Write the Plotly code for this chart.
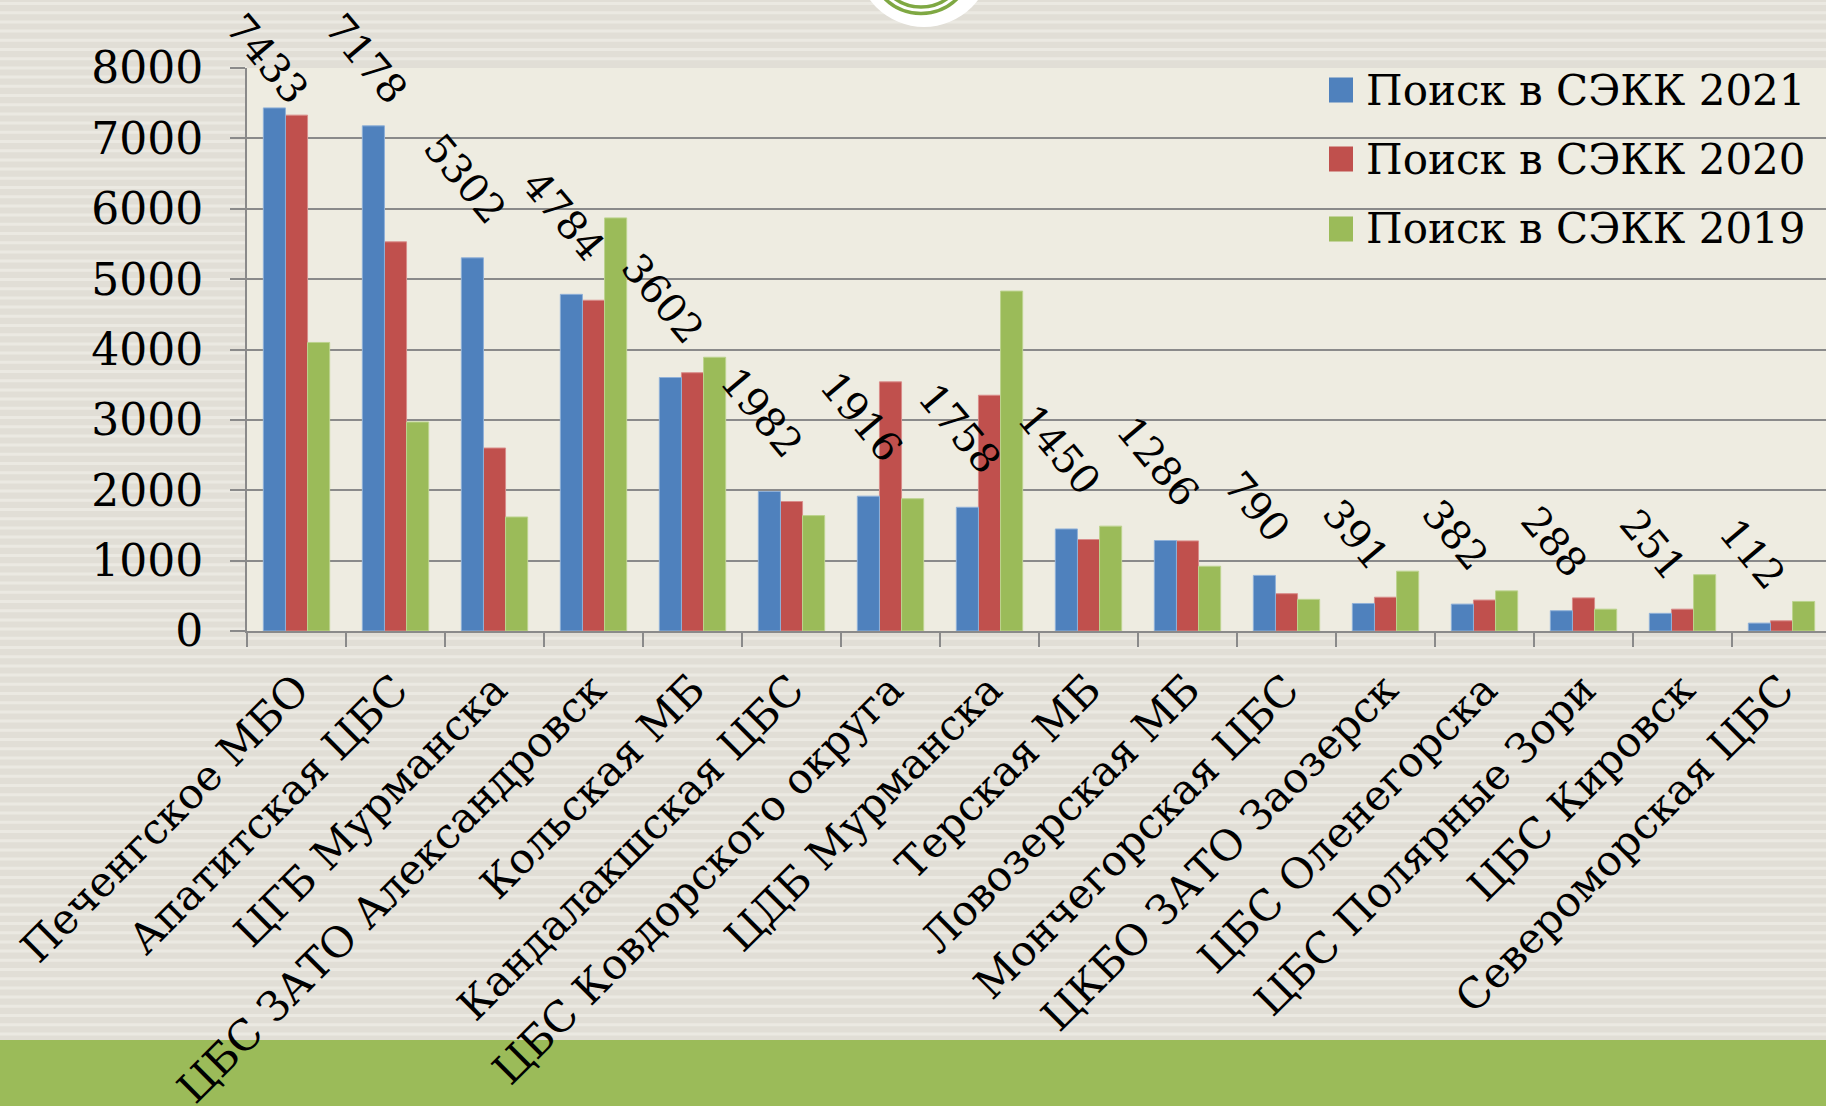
import plotly.graph_objects as go

categories = ["Печенгское МБО", "Апатитская ЦБС", "ЦГБ Мурманска", "ЦБС ЗАТО Александровск",
              "Кольская МБ", "Кандалакшская ЦБС", "ЦБС Ковдорского округа", "ЦДБ Мурманска",
              "Терская МБ", "Ловозерская МБ", "Мончегорская ЦБС", "ЦКБО ЗАТО Заозерск",
              "ЦБС Оленегорска", "ЦБС Полярные Зори", "ЦБС Кировск", "Североморская ЦБС"]
search_2021 = [7433, 7178, 5302, 4784, 3602, 1982, 1916, 1758, 1450, 1286, 790, 391, 382, 288, 251, 112]
search_2020 = [7330, 5530, 2600, 4700, 3670, 1840, 3540, 3350, 1300, 1280, 530, 480, 440, 470, 310, 145]
search_2019 = [4100, 2970, 1620, 5870, 3890, 1640, 1880, 4830, 1490, 920, 450, 850, 570, 310, 800, 420]
series_names = ["Поиск в СЭКК 2021", "Поиск в СЭКК 2020", "Поиск в СЭКК 2019"]
y_ticks = [0, 1000, 2000, 3000, 4000, 5000, 6000, 7000, 8000]

colors = ["#4F81BD", "#C0504D", "#9BBB59"]
edge = ["#8FB0D8", "#D98C8A", "#BCD38E"]
FONT = "DejaVu Serif"
W, H = 1826, 1106
L, T, B = 247, 68, 631
PW, PH = W - L, B - T
CAT_PX = 99.0
YMAX = 8000
BAR_W = 0.2233
offsets = [-1.5 * BAR_W, -0.5 * BAR_W, 0.5 * BAR_W]


def px(x):
    return (x - L) / PW


def py(y):
    return (B - y) / PH


series = [search_2021, search_2020, search_2019]
fig = go.Figure()
# draw 2020 and 2019 first so 2021 (with its labels) sits on top
for i in [1, 2, 0]:
    fig.add_trace(go.Bar(
        x=categories, y=series[i], name=series_names[i],
        width=BAR_W, offset=offsets[i],
        marker=dict(color=colors[i], line=dict(color=edge[i], width=1)),
        showlegend=False, cliponaxis=False,
    ))

annotations = []
# data labels for 2021
for c, v in zip(categories, search_2021):
    bar_top = B - v / YMAX * PH
    gap = min(22, bar_top - 116)
    annotations.append(dict(x=c, y=v, xref="x", yref="y", text=str(v), showarrow=False,
                            textangle=50, xanchor="center", yanchor="bottom",
                            xshift=(offsets[0] + BAR_W / 2) * CAT_PX - 7, yshift=gap,
                            font=dict(family=FONT, size=40, color="black")))

shapes = []
# striped background outside plot area
y = 2.0
while y < 1040:
    x1 = W if (y + 3 <= T or y >= B) else L
    shapes.append(dict(type="rect", xref="paper", yref="paper", layer="below",
                       x0=px(0), x1=px(x1), y0=py(y + 3), y1=py(y),
                       fillcolor="#EBE9E2", line=dict(width=0)))
    y += 9.2
# plot area
shapes.append(dict(type="rect", xref="paper", yref="paper", layer="below",
                   x0=0, x1=1, y0=0, y1=1, fillcolor="#EEECE1", line=dict(width=0)))
# bottom green band
shapes.append(dict(type="rect", xref="paper", yref="paper", layer="below",
                   x0=px(0), x1=px(W), y0=py(H + 4), y1=py(1040),
                   fillcolor="#9BBB59", line=dict(width=0)))


# logo
def circ(cx, cy, r, **kw):
    return dict(type="circle", xref="paper", yref="paper",
                x0=px(cx - r), x1=px(cx + r), y0=py(cy + r), y1=py(cy - r), **kw)


shapes.append(circ(924, -40.5, 67.5, fillcolor="white", line=dict(width=0), layer="above"))
shapes.append(circ(921, -38, 51.5, fillcolor="rgba(0,0,0,0)", line=dict(color="#7FA843", width=3.5), layer="above"))
shapes.append(circ(921, -38, 45, fillcolor="rgba(0,0,0,0)", line=dict(color="#7FA843", width=3.5), layer="above"))

# custom legend
leg_y = [90, 159, 229]
for i, name in enumerate(series_names):
    shapes.append(dict(type="rect", xref="paper", yref="paper", layer="above",
                       x0=px(1329), x1=px(1353), y0=py(leg_y[i] + 12.5), y1=py(leg_y[i] - 12.5),
                       fillcolor=colors[i], line=dict(width=0)))
    annotations.append(dict(xref="paper", yref="paper", x=px(1364), y=py(leg_y[i]),
                            xanchor="left", yanchor="middle", showarrow=False, text=name,
                            font=dict(family=FONT, size=42, color="black")))

fig.update_layout(
    width=W, height=H,
    margin=dict(l=L, r=0, t=T, b=H - B, pad=0, autoexpand=False),
    paper_bgcolor="#E1DED6",
    plot_bgcolor="rgba(0,0,0,0)",
    barmode="overlay",
    shapes=shapes, annotations=annotations,
    showlegend=False,
    xaxis=dict(range=[-0.5, -0.5 + PW / CAT_PX], tickangle=-45, tickson="boundaries",
               ticks="outside", ticklen=14, tickwidth=2, tickcolor="#8A8A8A",
               showline=True, linecolor="#8A8A8A", linewidth=2, showgrid=False,
               ticklabelstandoff=15, automargin=False,
               tickfont=dict(family=FONT, size=42, color="black")),
    yaxis=dict(range=[0, YMAX], tickvals=y_ticks, ticks="outside", ticklen=15, tickwidth=2,
               tickcolor="#8A8A8A", showline=True, linecolor="#8A8A8A", linewidth=2,
               showgrid=True, gridcolor="#8A8A8A", gridwidth=2, zeroline=False,
               ticklabelstandoff=18, automargin=False,
               tickfont=dict(family=FONT, size=44, color="black")),
)

fig.write_html("out.html", config={"displayModeBar": False},
               post_script="document.body.style.margin='0';")
